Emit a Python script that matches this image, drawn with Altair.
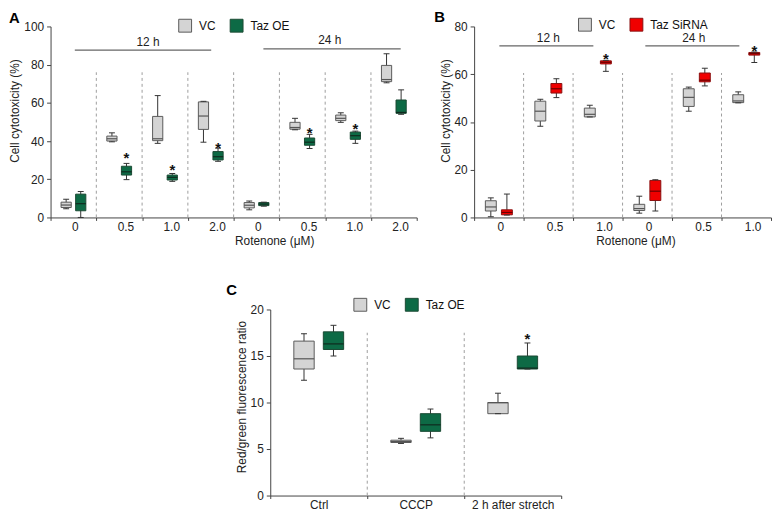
import altair as alt
import pandas as pd

FONT = "Liberation Sans"
FS = 12

# ---------------- Panel A : Taz OE, 12 h / 24 h ----------------
A_groups = ["12h|0", "12h|0.5", "12h|1.0", "12h|2.0", "24h|0", "24h|0.5", "24h|1.0", "24h|2.0"]
A_series = ["VC", "Taz OE"]
A_vc_min = [4.5, 39.6, 38.8, 39.4, 4.0, 45.9, 49.8, 70.5]
A_vc_q1 = [5.2, 40.0, 40.2, 46.1, 5.0, 46.2, 50.7, 71.1]
A_vc_med = [6.5, 41.2, 41.2, 53.1, 6.4, 47.1, 51.9, 72.2]
A_vc_q3 = [8.0, 42.6, 52.9, 60.5, 7.8, 49.8, 53.6, 79.6]
A_vc_max = [9.5, 44.3, 63.8, 60.8, 8.6, 51.9, 54.8, 85.7]
A_oe_min = [0.0, 19.8, 18.9, 29.4, 5.9, 36.1, 38.8, 54.0]
A_oe_q1 = [3.5, 22.2, 19.6, 30.1, 6.2, 37.8, 40.9, 54.5]
A_oe_med = [7.2, 23.9, 21.0, 31.8, 7.0, 39.4, 42.8, 55.0]
A_oe_q3 = [12.2, 26.8, 22.2, 34.5, 7.8, 41.6, 44.7, 61.5]
A_oe_max = [13.6, 28.3, 23.0, 36.3, 8.0, 43.5, 45.2, 66.8]
A_star_groups = ["12h|0.5", "12h|1.0", "12h|2.0", "24h|0.5", "24h|1.0"]
A_star_y = [33.0, 27.0, 38.6, 46.4, 48.5]
A_div_pos = [1, 2, 3, 4, 5, 6, 7]
A_div_top = 76
A_br_labels = ["12 h", "24 h"]
A_br_start = [0.53, 4.65]
A_br_end = [3.51, 7.65]
A_br_y = [87.6, 88.3]
A_br_text_x = [2.13, 6.1]
A_br_text_y = [89.9, 90.7]

# ---------------- Panel B : Taz SiRNA ----------------
B_groups = ["12h|0", "12h|0.5", "12h|1.0", "24h|0", "24h|0.5", "24h|1.0"]
B_series = ["VC", "Taz SiRNA"]
B_vc_min = [0.3, 38.2, 42.1, 1.8, 44.5, 48.0]
B_vc_q1 = [2.7, 40.4, 42.1, 2.9, 46.5, 48.1]
B_vc_med = [4.4, 44.5, 43.2, 3.7, 50.3, 48.8]
B_vc_q3 = [7.0, 48.7, 45.8, 5.5, 53.9, 51.4]
B_vc_max = [8.2, 49.5, 47.0, 8.9, 54.6, 52.6]
B_si_min = [1.0, 50.2, 61.2, 2.7, 55.1, 64.9]
B_si_q1 = [1.1, 52.1, 64.3, 7.1, 56.8, 68.0]
B_si_med = [2.1, 53.9, 65.0, 11.0, 57.5, 68.6]
B_si_q3 = [3.2, 56.1, 65.6, 15.5, 60.5, 69.1]
B_si_max = [9.8, 58.1, 65.8, 15.8, 62.5, 69.3]
B_star_groups = ["12h|1.0", "24h|1.0"]
B_star_y = [68.1, 71.5]
B_div_pos = [1, 2, 3, 4, 5]
B_div_top = 60.5
B_br_labels = ["12 h", "24 h"]
B_br_start = [0.51, 3.46]
B_br_end = [2.41, 5.36]
B_br_y = [71.9, 71.9]
B_br_text_x = [1.5, 4.44]
B_br_text_y = [73.3, 73.3]

# ---------------- Panel C : membrane potential ----------------
C_groups = ["Ctrl", "CCCP", "2 h after stretch"]
C_series = ["VC", "Taz OE"]
C_vc_min = [12.4, 5.6, 8.8]
C_vc_q1 = [13.6, 5.7, 8.8]
C_vc_med = [14.7, 5.8, 9.97]
C_vc_q3 = [16.6, 5.95, 10.0]
C_vc_max = [17.4, 6.15, 11.0]
C_oe_min = [15.0, 6.2, 13.6]
C_oe_q1 = [15.7, 6.9, 13.6]
C_oe_med = [16.3, 7.6, 13.7]
C_oe_q3 = [17.6, 8.8, 15.0]
C_oe_max = [18.3, 9.3, 16.4]
C_star_groups = ["2 h after stretch"]
C_star_y = [17.2]
C_div_pos = [1, 2]
C_div_top = 17.5

GRAY_FILL, GRAY_STROKE, GRAY_MED = "#d4d4d4", "#5a5a5a", "#555555"
GREEN_FILL, GREEN_STROKE, GREEN_MED = "#0d6a45", "#1b4a34", "#0f2a1e"
RED_FILL, RED_STROKE, RED_MED = "#f00000", "#8a1010", "#6a0000"


def box_df(groups, series, stats):
    rows = []
    for s, st in zip(series, stats):
        for i, g in enumerate(groups):
            rows.append({"grp": g, "series": s, "min": st[0][i], "q1": st[1][i],
                         "med": st[2][i], "q3": st[3][i], "max": st[4][i]})
    return pd.DataFrame(rows)


def panel(df, groups, series, fills, strokes, meds, ymax, ystep, width, height,
          pI, pO, boxw, ytitle, ytitleY, xtitle, xtitleX, legX, legY, letter,
          letter_dx, letter_offset, star_df, div_df, br_df, label_expr):
    n = len(groups)
    yscale = alt.Scale(domain=[0, ymax], nice=False)
    yaxis = alt.Axis(values=list(range(0, ymax + 1, ystep)), tickSize=4, labelPadding=3,
                     titlePadding=2, titleY=ytitleY)

    def Y(f):
        return alt.Y(f, type="quantitative", scale=yscale, axis=yaxis, title=ytitle)

    xax = dict(labelAngle=0, tickBand="extent", tickSize=3, labelPadding=1, titlePadding=3,
               labelOverlap=False, labelLimit=300)
    if label_expr:
        xax["labelExpr"] = label_expr
        xax["labelAlign"] = "left"
        xax["labelOffset"] = -2
    if xtitleX is not None:
        xax["titleX"] = xtitleX
    X = alt.X("grp:N", sort=groups, title=xtitle,
              scale=alt.Scale(domain=groups, paddingInner=0, paddingOuter=0),
              axis=alt.Axis(**xax))
    XO = alt.XOffset("series:N", sort=series,
                     scale=alt.Scale(domain=series, paddingInner=pI, paddingOuter=pO))
    leg = alt.Legend(title=None, orient="none", legendX=legX, legendY=legY,
                     direction="horizontal", symbolType="square", symbolSize=169,
                     symbolStrokeWidth=1, labelFontSize=FS, labelFont=FONT,
                     labelColor="#111", labelOffset=7, columnPadding=12, padding=0)

    base = alt.Chart(df).encode(x=X, xOffset=XO)
    whisk = base.mark_rule(color="#333", strokeWidth=1).encode(y=Y("min"), y2=alt.Y2("max"))
    box = base.mark_bar(strokeWidth=1).encode(
        y=Y("q1"), y2=alt.Y2("q3"),
        fill=alt.Fill("series:N", sort=series, scale=alt.Scale(domain=series, range=fills), legend=leg),
        stroke=alt.Stroke("series:N", sort=series, scale=alt.Scale(domain=series, range=strokes), legend=leg))
    med = base.mark_tick(size=boxw, thickness=1.2, opacity=1).encode(
        y=Y("med"),
        color=alt.Color("series:N", sort=series, scale=alt.Scale(domain=series, range=meds), legend=None))
    capmax = base.mark_tick(size=6, thickness=1, color="#333", opacity=1).encode(y=Y("max"))
    capmin = base.mark_tick(size=6, thickness=1, color="#333", opacity=1).encode(y=Y("min"))
    star = alt.Chart(star_df).mark_text(text="*", fontSize=15, fontWeight="bold", baseline="middle",
                                        dy=4, color="#111", font=FONT).encode(x=X, xOffset=XO, y=Y("y"))
    boxes = alt.layer(whisk, box, med, capmax, capmin, star)

    def XN(f):
        return alt.X(f, type="quantitative", scale=alt.Scale(domain=[0, n], nice=False, zero=False), axis=None)

    ann = [alt.Chart(div_df).mark_rule(color="#9d9d9d", strokeDash=[3, 3], strokeWidth=1).encode(
        x=XN("pos"), y=Y("y0"), y2=alt.Y2("y1"))]
    if br_df is not None:
        ann.append(alt.Chart(br_df).mark_rule(color="#666", strokeWidth=1.2).encode(
            x=XN("x0"), x2=alt.X2("x1"), y=Y("y")))
        ann.append(alt.Chart(br_df).mark_text(fontSize=FS, font=FONT, color="#222",
                                              baseline="alphabetic").encode(
            x=XN("tx"), y=Y("ty"), text="label:N"))
    chart = alt.layer(alt.layer(*ann), boxes).resolve_scale(x="independent").properties(
        width=width, height=height,
        title=alt.TitleParams(letter, anchor="start", fontSize=15, fontWeight="bold", font=FONT,
                              color="#000", offset=letter_offset, dx=letter_dx))
    return chart


def stars(groups, series_name, ys):
    return pd.DataFrame({"grp": groups, "series": [series_name] * len(groups), "y": ys})


def divs(pos, top):
    return pd.DataFrame({"pos": pos, "y0": [0] * len(pos), "y1": [top] * len(pos)})


def brackets(labels, x0, x1, y, tx, ty):
    return pd.DataFrame({"label": labels, "x0": x0, "x1": x1, "y": y, "tx": tx, "ty": ty})


LABEL_EXPR = "split(datum.label, '|')[1]"

dfA = box_df(A_groups, A_series, [(A_vc_min, A_vc_q1, A_vc_med, A_vc_q3, A_vc_max),
                                  (A_oe_min, A_oe_q1, A_oe_med, A_oe_q3, A_oe_max)])
chartA = panel(dfA, A_groups, A_series, [GRAY_FILL, GREEN_FILL], [GRAY_STROKE, GREEN_STROKE],
               [GRAY_MED, GREEN_MED], 100, 20, 370, 193, 0.3, 0.72, 10.3,
               "Cell cytotoxicity (%)", 85, "Rotenone (\u03bcM)", 226, 129, -8, "A", 0, -8,
               stars(A_star_groups, "Taz OE", A_star_y), divs(A_div_pos, A_div_top),
               brackets(A_br_labels, A_br_start, A_br_end, A_br_y, A_br_text_x, A_br_text_y), LABEL_EXPR)

dfB = box_df(B_groups, B_series, [(B_vc_min, B_vc_q1, B_vc_med, B_vc_q3, B_vc_max),
                                  (B_si_min, B_si_q1, B_si_med, B_si_q3, B_si_max)])
chartB = panel(dfB, B_groups, B_series, [GRAY_FILL, RED_FILL], [GRAY_STROKE, RED_STROKE],
               [GRAY_MED, RED_MED], 80, 20, 300, 193, 0.32, 0.7, 11,
               "Cell cytotoxicity (%)", 85, "Rotenone (\u03bcM)", 163, 105, -9, "B", -5, -8,
               stars(B_star_groups, "Taz SiRNA", B_star_y), divs(B_div_pos, B_div_top),
               brackets(B_br_labels, B_br_start, B_br_end, B_br_y, B_br_text_x, B_br_text_y), LABEL_EXPR)

dfC = box_df(C_groups, C_series, [(C_vc_min, C_vc_q1, C_vc_med, C_vc_q3, C_vc_max),
                                  (C_oe_min, C_oe_q1, C_oe_med, C_oe_q3, C_oe_max)])
chartC = panel(dfC, C_groups, C_series, [GRAY_FILL, GREEN_FILL], [GRAY_STROKE, GREEN_STROKE],
               [GRAY_MED, GREEN_MED], 20, 5, 294, 188, 0.31, 0.8, 20.5,
               "Red/green fluorescence ratio", 88, None, None, 84, -12, "C", -9, 0,
               stars(C_star_groups, "Taz OE", C_star_y), divs(C_div_pos, C_div_top), None, None)

spacer = alt.Chart(pd.DataFrame({"s": [0]})).mark_point(opacity=0).encode(
    x=alt.X("s:Q", axis=None), y=alt.Y("s:Q", axis=None)).properties(width=167, height=10)

RES = dict(fill="independent", stroke="independent", color="independent", xOffset="independent")
LRES = dict(fill="independent", stroke="independent", color="independent")

top = alt.hconcat(chartA, chartB, spacing=16).resolve_scale(**RES).resolve_legend(**LRES)
bottom = alt.hconcat(spacer, chartC, spacing=10).resolve_scale(**RES).resolve_legend(**LRES)

chart = (
    alt.vconcat(top, bottom, spacing=37)
    .resolve_scale(**RES).resolve_legend(**LRES)
    .properties(padding=0)
    .configure(font=FONT)
    .configure_view(stroke=None)
    .configure_axis(domainColor="#444", tickColor="#444", labelColor="#222", titleColor="#222",
                    labelFont=FONT, titleFont=FONT, labelFontSize=FS, titleFontSize=FS,
                    titleFontWeight="normal", grid=False)
)

chart.save("out.html", embed_options={"renderer": "svg", "actions": False})
